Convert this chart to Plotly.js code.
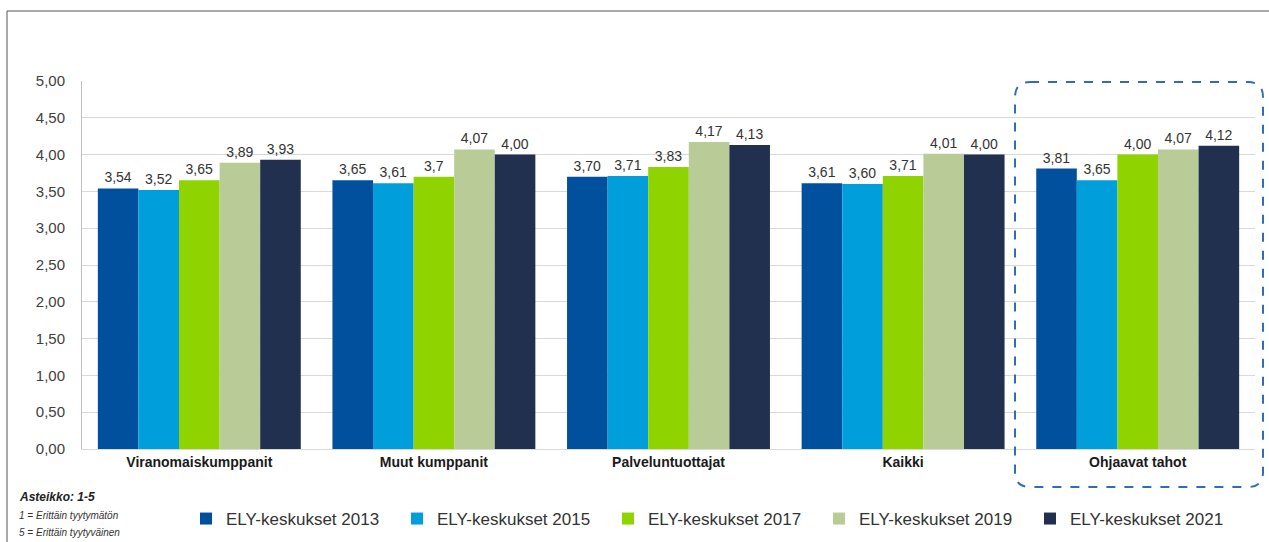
<!DOCTYPE html>
<html>
<head>
<meta charset="utf-8">
<script src="https://cdn.plot.ly/plotly-3.0.1.min.js"></script>
<style>html,body{margin:0;padding:0;background:#fff;}#chart{width:1269px;height:542px;}</style>
</head>
<body>
<div id="chart"></div>
<script>
const categories = ["Viranomaiskumppanit", "Muut kumppanit", "Palveluntuottajat", "Kaikki", "Ohjaavat tahot"];
const seriesNames = ["ELY-keskukset 2013", "ELY-keskukset 2015", "ELY-keskukset 2017", "ELY-keskukset 2019", "ELY-keskukset 2021"];
const values2013 = [3.54, 3.65, 3.70, 3.61, 3.81];
const values2015 = [3.52, 3.61, 3.71, 3.60, 3.65];
const values2017 = [3.65, 3.70, 3.83, 3.71, 4.00];
const values2019 = [3.89, 4.07, 4.17, 4.01, 4.07];
const values2021 = [3.93, 4.00, 4.13, 4.00, 4.12];
// data label as printed in the source (one label shown with a single decimal)
const labels2017 = ["3,65", "3,7", "3,83", "3,71", "4,00"];
const colors = ["#01509e", "#009fdb", "#8fd400", "#b9cc97", "#22304f"];

const fmt = v => v.toFixed(2).replace('.', ',');
const allValues = [values2013, values2015, values2017, values2019, values2021];
const allLabels = [values2013.map(fmt), values2015.map(fmt), labels2017, values2019.map(fmt), values2021.map(fmt)];

const FONT = 'Liberation Sans, Arial, sans-serif';

const traces = allValues.map((vals, i) => ({
  type: 'bar',
  name: seriesNames[i],
  x: categories,
  y: vals,
  text: allLabels[i],
  textposition: 'outside',
  texttemplate: '%{text}',
  textfont: {family: FONT, size: 14, color: '#333333'},
  cliponaxis: false,
  marker: {color: colors[i]},
  hoverinfo: 'skip'
}));

// pixel helpers for decoration (margins l=82, r=14, t=81, b=93)
const L = 82, T = 81, W = 1173, H = 368;
const px = x => (x - L) / W;
const py = y => (T + H - y) / H;

const rx = 15 / W, ry = 15 / H;
const bx0 = px(1015), bx1 = px(1263), byT = py(82), byB = py(487);
const roundRect = `M ${bx0 + rx} ${byT} L ${bx1 - rx} ${byT} Q ${bx1} ${byT} ${bx1} ${byT - ry} L ${bx1} ${byB + ry} Q ${bx1} ${byB} ${bx1 - rx} ${byB} L ${bx0 + rx} ${byB} Q ${bx0} ${byB} ${bx0} ${byB + ry} L ${bx0} ${byT - ry} Q ${bx0} ${byT} ${bx0 + rx} ${byT} Z`;

const layout = {
  width: 1269, height: 542,
  margin: {l: L, r: 14, t: T, b: 93, autoexpand: false},
  paper_bgcolor: '#ffffff', plot_bgcolor: '#ffffff',
  separators: ', ',
  barmode: 'group',
  bargap: 0.135,
  bargroupgap: 0,
  showlegend: true,
  font: {family: FONT, color: '#333333'},
  legend: {
    orientation: 'h',
    xref: 'container', yref: 'container',
    x: 186 / 1269, xanchor: 'left',
    y: 1 - 519 / 542, yanchor: 'middle',
    entrywidth: 166, entrywidthmode: 'pixels',
    itemwidth: 30,
    font: {family: FONT, size: 17, color: '#333333'},
    traceorder: 'normal',
    bgcolor: 'rgba(0,0,0,0)'
  },
  xaxis: {
    type: 'category',
    tickfont: {family: FONT, size: 14, color: '#1a1a1a', weight: 'bold'},
    showline: true, linecolor: '#d9d9d9', linewidth: 1,
    ticks: '', showgrid: false, fixedrange: true
  },
  yaxis: {
    range: [0, 5], dtick: 0.5, tick0: 0,
    tickformat: '.2f',
    tickfont: {family: FONT, size: 15, color: '#404040'},
    showgrid: true, gridcolor: '#d9d9d9', gridwidth: 1,
    showline: true, linecolor: '#bfbfbf', linewidth: 1,
    zeroline: false, ticks: '', ticklabelstandoff: 13, fixedrange: true
  },
  shapes: [
    {type: 'line', xref: 'paper', yref: 'paper', x0: px(7), x1: px(1269), y0: py(11), y1: py(11), line: {color: '#555555', width: 1}},
    {type: 'line', xref: 'paper', yref: 'paper', x0: px(7), x1: px(7), y0: py(11), y1: py(542), line: {color: '#555555', width: 1}},
    {type: 'path', xref: 'paper', yref: 'paper', path: roundRect, line: {color: '#2f6db5', width: 2, dash: 'dash'}}
  ],
  annotations: [
    {xref: 'paper', yref: 'paper', x: px(17), y: py(497), xanchor: 'left', yanchor: 'middle', showarrow: false,
     text: '<b><i>Asteikko: 1-5</i></b>', font: {family: FONT, size: 12, color: '#222222'}},
    {xref: 'paper', yref: 'paper', x: px(17), y: py(515), xanchor: 'left', yanchor: 'middle', showarrow: false,
     text: '<i>1 = Erittäin tyytymätön</i>', font: {family: FONT, size: 10, color: '#333333'}},
    {xref: 'paper', yref: 'paper', x: px(17), y: py(532), xanchor: 'left', yanchor: 'middle', showarrow: false,
     text: '<i>5 = Erittäin tyytyväinen</i>', font: {family: FONT, size: 10, color: '#333333'}}
  ]
};

Plotly.newPlot('chart', traces, layout, {displayModeBar: false, staticPlot: true});
</script>
</body>
</html>
